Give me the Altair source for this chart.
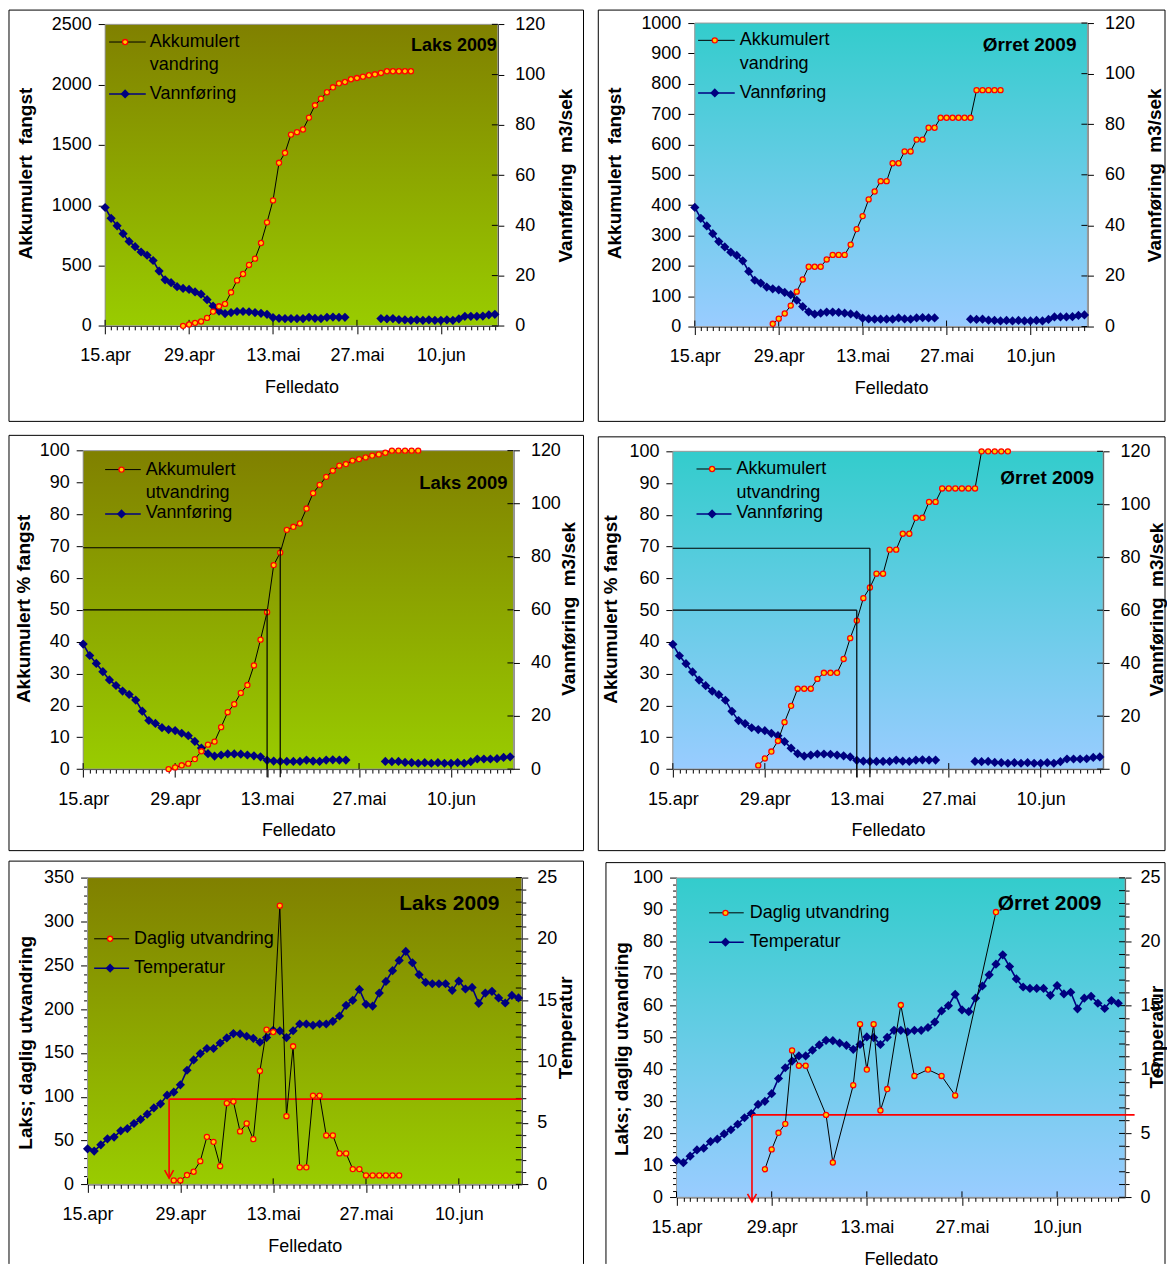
import altair as alt
import pandas as pd

FONT = "Liberation Sans"
NAVY = "#000080"
RED = "#ff0000"
MARK_FILL = "#ffcc00"
LAKS_BG = ("#808000", "#99cc00")
ORRET_BG = ("#33cccc", "#99ccff")

# ---------------- data (day 0 = 15.apr) ----------------
tick_days = [0, 14, 28, 42, 56]
tick_labels = ["15.apr", "29.apr", "13.mai", "27.mai", "10.jun"]

vannforing = [47.1, 42.8, 39.8, 36.7, 33.6, 31.5, 29.4, 28.1, 26.0, 21.8,
              18.3, 17.2, 15.6, 14.9, 14.5, 13.5, 12.6, 10.4, 7.9, 5.8,
              4.9, 5.3, 5.7, 5.7, 5.6, 5.3, 5.0, 4.6, 3.3, 3.0,
              2.9, 2.9, 2.9, 2.9, 3.4, 3.0, 2.9, 3.4, 3.5, 3.4,
              3.4, None, None, None, None, None, 2.9, 2.8, 2.9, 2.5,
              2.4, 2.2, 2.4, 2.2, 2.4, 2.2, 2.2, 2.4, 2.2, 2.8,
              3.8, 3.8, 3.8, 3.9, 4.4, 4.6]

temperatur = [2.90, 2.71, 3.22, 3.71, 3.85, 4.36, 4.55, 4.96, 5.29, 5.72,
              6.23, 6.56, 7.27, 7.51, 8.11, 9.30, 10.14, 10.66, 11.07, 11.07,
              11.52, 11.93, 12.29, 12.26, 12.07, 11.90, 11.58, 11.96, 12.55, 12.50,
              11.96, 12.52, 13.07, 13.07, 12.96, 13.07, 13.07, 13.29, 13.72, 14.59,
              15.0, 15.89, 14.67, 14.53, 15.59, 16.54, 17.41, 18.25, 18.98, 18.06,
              17.09, 16.46, 16.35, 16.35, 16.35, 15.81, 16.57, 15.92, 16.05, 14.75,
              15.59, 15.73, 15.19, 14.78, 15.40, 15.19]

akk_start = 13
laks_akk = [0, 11, 25, 36, 66, 118, 162, 182, 278, 377,
            430, 505, 557, 687, 858, 1040, 1352, 1435, 1586, 1606,
            1628, 1727, 1829, 1884, 1937, 1978, 2011, 2022, 2045, 2055,
            2066, 2078, 2086, 2097, 2111, 2111, 2111, 2111, 2111]
orret_akk = [9, 26, 43, 69, 115, 155, 197, 197, 197, 221,
             236, 236, 236, 270, 321, 364, 419, 445, 479, 479,
             538, 538, 577, 577, 616, 616, 655, 655, 688, 688,
             688, 688, 688, 688, 779, 779, 779, 779, 779]

daglig_start = 13
laks_daglig = [4.5, 4.5, 10.6, 14.4, 26.5, 54.2, 48.5, 20.8, 92.6, 94.5,
               60.4, 69.5, 51.6, 129.4, 176.5, 173.8, 318, 77.8, 157.5, 19.4,
               19.4, 101.3, 101.3, 55.8, 55.8, 35.3, 35.3, 17.4, 17.4, 10.2,
               10.2, 10.2, 10.2, 10.2, 10.2]
orret_daglig_dager = [13, 14, 15, 16, 17, 18, 19, 22, 23, 26, 27, 28, 29, 30, 31,
                      33, 35, 37, 39, 41, 47]
orret_daglig = [8.8, 15.0, 20.2, 23.0, 46.0, 41.2, 41.2, 25.8, 10.9, 35.1, 54.2,
                40.0, 54.2, 27.2, 33.9, 60.2, 38.0, 40.0, 38.0, 31.9, 89.3]

# reference lines (50 % and ~70 % of total) in the percentage panels
ref_dager = [28, 30]
ref_niva = [50, 69.5]
ref_bunn = -2.6
# 7 degree markers in the temperature panels: (start day, level, end day, arrow tip)
laks_terskel = (12.3, 6.95, 65.5, 0.5)
orret_terskel = (11.1, 6.45, 67.4, -0.35)

one = pd.DataFrame({"k": [0]})

# grid cells of the 3x2 layout (page pixels)
COL_X = [8, 591]
COL_W = [583, 576]
ROW_Y = [8, 427, 854]
ROW_H = [419, 427, 411]


def navy_df(vals):
    rows, seg = [], 0
    for d, v in enumerate(vals):
        if v is None:
            seg += 1
            continue
        rows.append({"day": d, "value": v, "seg": seg})
    return pd.DataFrame(rows)


def grad(top, bottom):
    return alt.Gradient(gradient="linear",
                        stops=[alt.GradientStop(color=top, offset=0),
                               alt.GradientStop(color=bottom, offset=1)],
                        x1=0, x2=0, y1=0, y2=1)


def cond_size(step, major, minor):
    return {"condition": {"test": f"datum.value % {step} == 0", "value": major}, "value": minor}


def legend_layers(items, a, t):
    out = []
    for it in items:
        base = alt.Chart(one)
        y = it["y"] + t
        if it["kind"] == "red":
            out.append(base.mark_rule(color="black", strokeWidth=1).encode(
                x=alt.value(it["x1"] + a), x2=alt.value(it["x2"] + a), y=alt.value(y)))
            out.append(base.mark_point(shape="circle", filled=True, fill=MARK_FILL, stroke=RED,
                                       strokeWidth=1.3, size=26, opacity=1).encode(
                x=alt.value(it["xm"] + a), y=alt.value(y)))
        else:
            out.append(base.mark_rule(color=NAVY, strokeWidth=1.5).encode(
                x=alt.value(it["x1"] + a), x2=alt.value(it["x2"] + a), y=alt.value(y)))
            out.append(base.mark_point(shape="diamond", filled=True, color=NAVY, size=85, opacity=1).encode(
                x=alt.value(it["xm"] + a), y=alt.value(y)))
        for txt, ty in it["lines"]:
            out.append(base.mark_text(text=txt, align="left", baseline="middle", font=FONT,
                                      fontSize=18, color="black").encode(
                x=alt.value(it["tx"] + a), y=alt.value(ty + t)))
    return out


def frame_layers(x1, x2, y1, y2, open_bottom=False):
    base = alt.Chart(one)
    if not open_bottom:
        return [base.mark_rect(filled=False, stroke="black", strokeWidth=1, fillOpacity=0).encode(
            x=alt.value(x1), x2=alt.value(x2), y=alt.value(y1), y2=alt.value(y2))]
    return [
        base.mark_rule(color="black", strokeWidth=1).encode(x=alt.value(x1), y=alt.value(y1), y2=alt.value(y2)),
        base.mark_rule(color="black", strokeWidth=1).encode(x=alt.value(x2), y=alt.value(y1), y2=alt.value(y2)),
        base.mark_rule(color="black", strokeWidth=1).encode(x=alt.value(x1), x2=alt.value(x2), y=alt.value(y1)),
    ]


def panel(c):
    col, row = c["cell"]
    W, H = COL_W[col], ROW_H[row]
    a = c["px"] - COL_X[col]          # plot-area offset inside the cell
    t = c["py"] - ROW_Y[row]
    w, h, xmax = c["w"], c["h"], c["xmax"]

    expr = "".join(f"datum.value == {d} ? '{l}' : " for d, l in zip(tick_days, tick_labels)) + "''"
    xax = alt.Axis(values=list(range(0, 66)), labelExpr=expr, labelOverlap=False, labelFlush=False,
                   tickSize=cond_size(14, 8, 4), labelPadding=22, labelBaseline="middle",
                   offset=(t + h) - H,
                   title="Felledato", titleX=a + w / 2, titleY=62, titleBaseline="middle",
                   titleAlign="center", titleFontWeight="normal", titleFontSize=18, grid=False)
    xe = alt.X("day:Q", scale=alt.Scale(domain=[0, xmax], range=[a, a + w], nice=False, zero=False), axis=xax)

    def y_axis(orient, values, title, tx, ty, major_step, ts, lp, offset):
        kw = dict(orient=orient, values=values, title=title, titleX=tx, titleY=ty + t, titleAngle=270,
                  titleAlign="center", titleBaseline="middle", titleFontWeight="bold", titleFontSize=19,
                  labelPadding=lp, grid=False, format="d", labelFlush=False, labelOverlap=False,
                  offset=offset)
        if major_step:
            kw["labelExpr"] = f"datum.value % {major_step} == 0 ? datum.label : ''"
            kw["tickSize"] = cond_size(major_step, ts, 4)
        else:
            kw["tickSize"] = ts
        return alt.Axis(**kw)

    bg = alt.Chart(one).mark_rect(fill=grad(*c["bg"]), stroke="#9a9a9a", strokeWidth=1).encode(
        x=alt.value(a), x2=alt.value(a + w), y=alt.value(t), y2=alt.value(t + h))

    # right axis group (navy series)
    yr = alt.Y("value:Q", scale=alt.Scale(domain=c["rdomain"], range=[t + h, t], nice=False, zero=False),
               axis=y_axis("right", c["rvalues"], c["rtitle"], c["rtx"], c["rty"],
                           c.get("rmajor"), 6, c.get("rlp", 11), (a + w) - W))
    ndf = c["navy"]
    right = [bg]
    # inner halves of the crossing tick marks (x major ticks and right-axis ticks)
    right.append(alt.Chart(pd.DataFrame({"day": tick_days})).mark_rule(color="black", strokeWidth=1).encode(
        x=xe, y=alt.value(t + h), y2=alt.value(t + h - 6)))
    rmaj = c.get("rmajor")
    rt = pd.DataFrame({"value": c["rvalues"]})
    if rmaj:
        rt["len"] = [5 if v % rmaj == 0 else 3.5 for v in c["rvalues"]]
    else:
        rt["len"] = 7
    rt["x2"] = a + w - rt["len"]
    right.append(alt.Chart(rt).mark_rule(color="black", strokeWidth=1).encode(
        y=yr, x=alt.value(a + w), x2=alt.X2("x2:Q", scale=None) if False else alt.value(a + w - 6)))
    right += [alt.Chart(ndf).mark_line(color=NAVY, strokeWidth=1.6).encode(x=xe, y=yr, detail="seg:N"),
              alt.Chart(ndf).mark_point(shape="diamond", filled=True, color=NAVY, size=85, opacity=1).encode(x=xe, y=yr)]
    if c.get("terskel"):
        d0, lvl, dend, tip = c["terskel"]
        tdf = pd.DataFrame({"day": [d0, d0], "day2": [dend, d0], "value": [lvl, lvl], "value2": [lvl, tip]})
        right.append(alt.Chart(tdf).mark_rule(color=RED, strokeWidth=1.6).encode(
            x=xe, x2="day2:Q", y=yr, y2="value2:Q"))
        adf = pd.DataFrame({"day": [d0], "value": [tip]})
        right.append(alt.Chart(adf).mark_point(shape="M-1,-1.8L0,0L1,-1.8", filled=False, stroke=RED,
                                                strokeWidth=1.6, size=80, opacity=1).encode(x=xe, y=yr))
    right_group = alt.layer(*right)

    # left axis group (red series)
    yfield = c.get("yfield", "value")
    yl = alt.Y(f"{yfield}:Q", scale=alt.Scale(domain=c["ldomain"], range=[t + h, t], nice=False, zero=False),
               axis=y_axis("left", c["lvalues"], c["ltitle"], c["ltx"], c["lty"],
                           c.get("lmajor"), 7, 7, -a))
    rbase = alt.Chart(c["red"])
    if yfield == "pct":
        rbase = rbase.transform_joinaggregate(total="max(value)").transform_calculate(
            pct="100 * datum.value / datum.total")
    left = [rbase.mark_line(color="black", strokeWidth=1).encode(x=xe, y=yl),
            rbase.mark_point(shape="circle", filled=True, fill=MARK_FILL, stroke=RED, strokeWidth=1.3,
                             size=26, opacity=1).encode(x=xe, y=yl)]
    if c.get("reflines"):
        rows = []
        for d, lv in zip(ref_dager, ref_niva):
            rows.append({"day": 0, "day2": d, "pct": lv, "pct2": lv})
            rows.append({"day": d, "day2": d, "pct": lv, "pct2": ref_bunn})
        left.append(alt.Chart(pd.DataFrame(rows)).mark_rule(color="black", strokeWidth=1.2).encode(
            x=xe, x2="day2:Q", y=yl, y2="pct2:Q"))
    left += legend_layers(c["legend"], a, t)
    ttext, tx, ty, tsize = c["title"]
    left.append(alt.Chart(one).mark_text(text=ttext, align="right", baseline="middle", font=FONT,
                                         fontSize=tsize, fontWeight="bold", color="black").encode(
        x=alt.value(tx + a), y=alt.value(ty + t)))
    left += frame_layers(*c["frame"])
    left_group = alt.layer(*left)

    return alt.layer(right_group, left_group).resolve_scale(y="independent").properties(width=W, height=H)


vdf = navy_df(vannforing)
tdf_all = pd.DataFrame({"day": list(range(len(temperatur))), "value": temperatur, "seg": 0})


def red_df(start, vals):
    return pd.DataFrame({"day": list(range(start, start + len(vals))), "value": vals})


def leg(kind, x1, x2, xm, y, tx, lines):
    return {"kind": kind, "x1": x1, "x2": x2, "xm": xm, "y": y, "tx": tx, "lines": lines}


p1 = panel(dict(cell=(0, 0), px=104.3, py=22.3, w=393.4, h=302, xmax=65.5, bg=LAKS_BG, navy=vdf,
                red=red_df(akk_start, laks_akk),
                rdomain=[0, 120], rvalues=list(range(0, 121, 20)), rtitle="Vannføring\u00a0 m3/sek", rtx=67.3, rty=151,
                ldomain=[0, 2500], lvalues=list(range(0, 2501, 500)), ltitle="Akkumulert\u00a0 fangst", ltx=-79.3, lty=149,
                legend=[leg("red", 4, 40.7, 20, 17.7, 44.7, [("Akkumulert", 17.7), ("vandring", 41)]),
                        leg("navy", 4, 40.7, 20, 69.7, 44.7, [("Vannføring", 69.4)])],
                title=("Laks 2009", 392.4, 22, 18),
                frame=(0, 575.5, 0, 412)))

p2 = panel(dict(cell=(1, 0), px=695, py=21, w=393.3, h=304, xmax=65.5, bg=ORRET_BG, navy=vdf,
                red=red_df(akk_start, orret_akk),
                rdomain=[0, 120], rvalues=list(range(0, 121, 20)), rtitle="Vannføring\u00a0 m3/sek", rtx=66.7, rty=152,
                ldomain=[0, 1000], lvalues=list(range(0, 1001, 100)), ltitle="Akkumulert\u00a0 fangst", ltx=-80, lty=150,
                legend=[leg("red", 3.3, 40, 20, 17.3, 45, [("Akkumulert", 17.3), ("vandring", 40.7)]),
                        leg("navy", 3.3, 40, 20, 70, 45, [("Vannføring", 69.7)])],
                title=("Ørret 2009", 382.3, 21.7, 19),
                frame=(7.3, 575, 0, 412)))

p3 = panel(dict(cell=(0, 1), px=82.3, py=449.3, w=431, h=319, xmax=65.5, bg=LAKS_BG, navy=vdf,
                red=red_df(akk_start, laks_akk), yfield="pct",
                rdomain=[0, 120], rvalues=list(range(0, 121, 20)), rtitle="Vannføring\u00a0 m3/sek", rtx=55, rty=158,
                ldomain=[0, 100], lvalues=list(range(0, 101, 10)), ltitle="Akkumulert % fangst", ltx=-60, lty=158,
                reflines=True,
                legend=[leg("red", 22, 57.7, 38.4, 19, 62.7, [("Akkumulert", 19), ("utvandring", 42.4)]),
                        leg("navy", 22, 57.7, 38.4, 63.4, 62.7, [("Vannføring", 62.9)])],
                title=("Laks 2009", 425, 32.4, 18.5),
                frame=(0, 575.5, 7, 423)))

p4 = panel(dict(cell=(1, 1), px=673, py=450, w=431, h=318.3, xmax=65.5, bg=ORRET_BG, navy=vdf,
                red=red_df(akk_start, orret_akk), yfield="pct",
                rdomain=[0, 120], rvalues=list(range(0, 121, 20)), rtitle="Vannføring\u00a0 m3/sek", rtx=53, rty=158,
                ldomain=[0, 100], lvalues=list(range(0, 101, 10)), ltitle="Akkumulert % fangst", ltx=-62, lty=158,
                reflines=True,
                legend=[leg("red", 23.7, 58.7, 39.3, 17.7, 63.7, [("Akkumulert", 17.7), ("utvandring", 41.7)]),
                        leg("navy", 23.7, 58.7, 39.3, 62.7, 63.7, [("Vannføring", 62.2)])],
                title=("Ørret 2009", 422, 26.7, 19),
                frame=(7.3, 575, 8.5, 423)))

p5 = panel(dict(cell=(0, 2), px=86.7, py=877, w=435, h=307.3, xmax=65.5, bg=LAKS_BG, navy=tdf_all,
                red=red_df(daglig_start, laks_daglig),
                rdomain=[0, 25], rvalues=list(range(0, 26)), rmajor=5, rlp=9, rtitle="Temperatur", rtx=43.3, rty=150,
                ldomain=[0, 350], lvalues=list(range(0, 351, 10)), lmajor=50, ltitle="Laks; daglig utvandring",
                ltx=-61.7, lty=165, terskel=laks_terskel,
                legend=[leg("red", 6.6, 41.6, 22.6, 61.3, 46.6, [("Daglig utvandring", 61.3)]),
                        leg("navy", 6.6, 41.6, 22.6, 90.7, 46.6, [("Temperatur", 90.7)])],
                title=("Laks 2009", 412.6, 26.3, 21),
                frame=(0, 575.5, 6.5, 410, True)))

p6 = panel(dict(cell=(1, 2), px=676.7, py=877.3, w=449.3, h=320, xmax=66, bg=ORRET_BG, navy=tdf_all,
                red=pd.DataFrame({"day": orret_daglig_dager, "value": orret_daglig}),
                rdomain=[0, 25], rvalues=list(range(0, 26)), rmajor=5, rlp=9, rtitle="Temperatur", rtx=31, rty=159,
                ldomain=[0, 100], lvalues=list(range(0, 101, 2)), lmajor=10, ltitle="Laks; daglig utvandring",
                ltx=-54.7, lty=171, terskel=orret_terskel,
                legend=[leg("red", 32.6, 67.3, 49, 35, 73.3, [("Daglig utvandring", 35)]),
                        leg("navy", 32.6, 67.3, 49, 64.4, 73.3, [("Temperatur", 64.4)])],
                title=("Ørret 2009", 425.6, 26, 21),
                frame=(15, 575, 8, 410, True)))

chart = alt.concat(p1, p2, p3, p4, p5, p6, columns=2, spacing=0, bounds="flush").properties(
    padding=0).configure_view(stroke="transparent").configure_axis(
    zindex=1, domainColor="black", tickColor="black", labelColor="black", titleColor="black",
    labelFont=FONT, titleFont=FONT, labelFontSize=18, domainWidth=1, tickWidth=1)

chart.save("out.html", embed_options={"renderer": "svg", "actions": False})
